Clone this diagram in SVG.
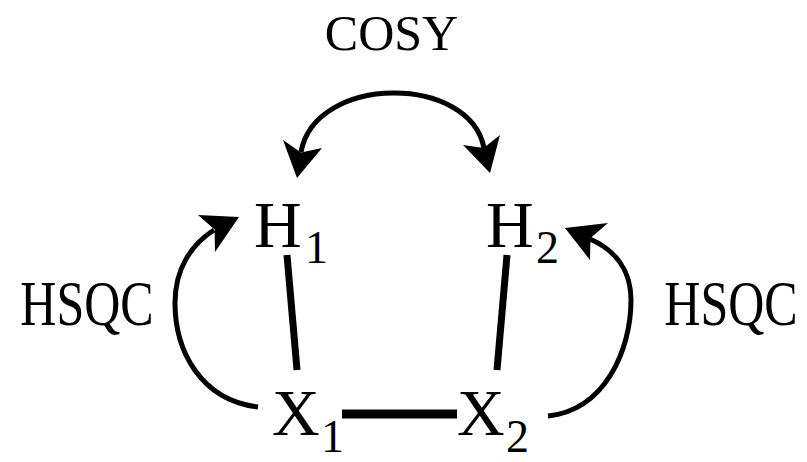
<svg xmlns="http://www.w3.org/2000/svg" width="807" height="462" viewBox="0 0 807 462">
<style>
text{font-family:"Liberation Serif","Times New Roman",serif;fill:#000}
.big{font-size:66px}
.sub{font-size:46px}
.lbl{font-size:50px;text-anchor:middle}
.bond{stroke:#000;stroke-width:7;stroke-linecap:butt;fill:none}
.arc{stroke:#000;stroke-width:5;fill:none}
.head{fill:#000;stroke:none}
</style>
<rect width="807" height="462" fill="#fff"/>
<g id="label-cosy"><text class="lbl" x="391.5" y="50">COSY</text></g>
<g id="label-hsqc-left"><text class="lbl" transform="translate(87,325) scale(1,1.25)">HSQC</text></g>
<g id="label-hsqc-right"><text class="lbl" transform="translate(731,325) scale(1,1.25)">HSQC</text></g>
<g id="H1"><text class="big" x="254" y="247">H</text><text class="sub" x="305" y="263">1</text></g>
<g id="H2"><text class="big" x="486" y="247">H</text><text class="sub" x="536" y="263">2</text></g>
<g id="X1"><text class="big" x="272" y="435">X</text><text class="sub" x="321" y="452">1</text></g>
<g id="X2"><text class="big" x="457" y="435">X</text><text class="sub" x="506" y="452">2</text></g>
<g id="connectors">
<line class="bond" x1="287" y1="255" x2="297" y2="370"/>
<line class="bond" x1="507" y1="255" x2="497" y2="370"/>
<line class="bond" x1="342" y1="414" x2="457" y2="414" style="stroke-width:9"/>
<path class="arc" d="M258,407 C200,400 175,350 175,303 C175,268 192,244 214,230"/>
<polygon class="head" points="239,217 198,215 214.6,229.4 215,252"/>
<path class="arc" d="M548,416 C605,410 631,350 631,300 C631,270 615,250 590,239"/>
<polygon class="head" points="565,228 608,223 590.5,238 590,260"/>
<path class="arc" d="M301,152 C315,74 470,74 484,148"/>
<polygon class="head" points="297,178 283,140 301,152.5 322,148"/>
<polygon class="head" points="490,173 463,145 483.6,148 500,135"/>
</g>
</svg>
